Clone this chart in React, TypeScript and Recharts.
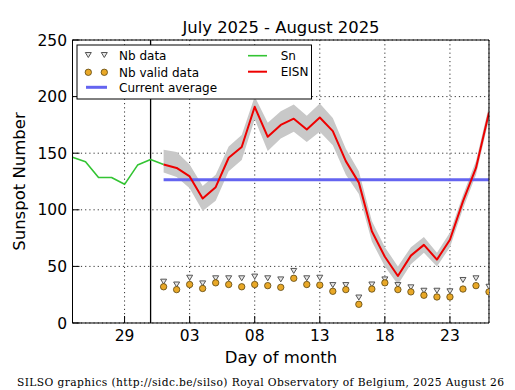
import React from 'react';
import {
  ComposedChart,
  Line,
  Area,
  Scatter,
  XAxis,
  YAxis,
  CartesianGrid,
  ReferenceLine,
} from 'recharts';

// x index: 0 = July 25, 7 = Aug 1, 32 = Aug 26
const snValues = [146.5, 142.5, 128.5, 128.5, 122.5, 139.5, 144.5, 140];
const eisnStart = 7;
const eisnValues = [140, 137, 129.5, 110, 120, 146, 155.5, 191, 164.5, 175, 180.5, 171, 181.5, 169.5, 143, 124, 81, 58.5, 41.5, 59.5, 69, 56, 73.5, 107.5, 137, 186];
const eisnLow = [133, 129, 119, 99, 108, 134, 144, 180, 152, 163, 169, 160, 169, 157, 131, 114, 72, 50, 34, 52, 62, 50, 67, 101, 131, 180];
const eisnHigh = [153, 151, 140, 121, 131, 156, 166, 200, 177, 187, 193, 183, 194, 181, 154, 134, 90, 67, 50, 67, 76, 62, 80, 113, 143, 192];
const nbData = [36.5, 34, 40, 35, 39.5, 39.5, 39.5, 41, 39.5, 38.5, 46, 39.5, 40, 33.5, 33.5, 22.5, 34, 38.5, 33.5, 31.5, 28.5, 28.5, 28, 38, 39.5, 32];
const nbValidData = [32, 29.5, 34, 30.5, 35.5, 34, 32, 34, 33, 31.5, 39.5, 34, 33.5, 28, 29.5, 16.5, 30, 35.5, 29.5, 27.5, 24.5, 23, 23, 30, 33, 27.5];
const currentAverage = 126.5;
const monthBoundary = 6;
const xDomainMax = 32;
const xTicks = [4, 9, 14, 19, 24, 29];
const xTickLabels = ['29', '03', '08', '13', '18', '23'];
const yTicks = [0, 50, 100, 150, 200, 250];
const xMinorTicks = Array.from({ length: xDomainMax + 1 }, (_, i) => i);
const yMinorTicks = Array.from({ length: 26 }, (_, i) => i * 10);

const rows = Array.from({ length: xDomainMax + 1 }, (_, i) => {
  const k = i - eisnStart;
  const inE = k >= 0 && k < eisnValues.length;
  return {
    x: i,
    sn: i < snValues.length ? snValues[i] : undefined,
    eisn: inE ? eisnValues[k] : undefined,
    band: inE ? [eisnLow[k], eisnHigh[k]] : undefined,
    avg: inE ? currentAverage : undefined,
  };
});
const nbRows = nbData.map((v, k) => ({ x: eisnStart + k, y: v }));
const nbValidRows = nbValidData.map((v, k) => ({ x: eisnStart + k, y: v }));

const FONT = 'DejaVu Sans, sans-serif';
const TINY = 0.001;

const Tri = (props: any) => {
  const { cx, cy } = props;
  if (cx == null || cy == null) return null;
  return (
    <polygon
      points={`${cx - 3},${cy - 2.5} ${cx + 3},${cy - 2.5} ${cx},${cy + 2.5}`}
      fill="#e6e6e6"
      stroke="#555"
      strokeWidth={1}
    />
  );
};
const Dot = (props: any) => {
  const { cx, cy } = props;
  if (cx == null || cy == null) return null;
  return <circle cx={cx} cy={cy} r={3.2} fill="#e9a827" stroke="#5a4510" strokeWidth={0.8} />;
};

export default function App() {
  const ax = { stroke: '#000', strokeWidth: 1 };
  return (
    <div style={{ position: 'absolute', left: 0, top: 0, width: 515, height: 390, background: '#fff' }}>
      <ComposedChart
        width={515}
        height={390}
        data={rows}
        margin={{ top: 40, right: 26, bottom: 67, left: 72.5 }}
      >
        <XAxis
          xAxisId="b"
          orientation="bottom"
          type="number"
          dataKey="x"
          domain={[0, xDomainMax]}
          allowDataOverflow
          ticks={xTicks}
          interval={0}
          tickFormatter={(v: number) => xTickLabels[xTicks.indexOf(v)]}
          tick={{ fill: '#000', fontSize: 15.5, fontFamily: FONT }}
          tickSize={-7}
          tickMargin={14}
          tickLine={ax}
          axisLine={ax}
          height={TINY}
        />
        <XAxis xAxisId="bm" orientation="bottom" type="number" dataKey="x" domain={[0, xDomainMax]} allowDataOverflow ticks={xMinorTicks} interval={0} tick={false} tickSize={-4} tickLine={ax} axisLine={false} height={TINY} />
        <XAxis xAxisId="t" orientation="top" type="number" dataKey="x" domain={[0, xDomainMax]} allowDataOverflow ticks={xTicks} interval={0} tick={false} tickSize={-7} tickLine={ax} axisLine={ax} height={TINY} />
        <XAxis xAxisId="tm" orientation="top" type="number" dataKey="x" domain={[0, xDomainMax]} allowDataOverflow ticks={xMinorTicks} interval={0} tick={false} tickSize={-4} tickLine={ax} axisLine={false} height={TINY} />
        <YAxis
          yAxisId="l"
          orientation="left"
          type="number"
          domain={[0, 250]}
          allowDataOverflow
          ticks={yTicks}
          interval={0}
          tick={{ fill: '#000', fontSize: 15.5, fontFamily: FONT }}
          tickSize={-7}
          tickMargin={12.5}
          tickLine={ax}
          axisLine={ax}
          width={TINY}
        />
        <YAxis yAxisId="lm" orientation="left" type="number" domain={[0, 250]} allowDataOverflow ticks={yMinorTicks} interval={0} tick={false} tickSize={-4} tickLine={ax} axisLine={false} width={TINY} />
        <YAxis yAxisId="r" orientation="right" type="number" domain={[0, 250]} allowDataOverflow ticks={yTicks} interval={0} tick={false} tickSize={-7} tickLine={ax} axisLine={ax} width={TINY} />
        <YAxis yAxisId="rm" orientation="right" type="number" domain={[0, 250]} allowDataOverflow ticks={yMinorTicks} interval={0} tick={false} tickSize={-4} tickLine={ax} axisLine={false} width={TINY} />
        <CartesianGrid xAxisId="b" yAxisId="l" stroke="#000" strokeWidth={0.8} strokeDasharray="1.2 3" />
        <ReferenceLine xAxisId="b" yAxisId="l" x={monthBoundary} stroke="#000" strokeWidth={1.3} />
        <Area xAxisId="b" yAxisId="l" dataKey="band" stroke="none" fill="#c8c8c8" fillOpacity={1} isAnimationActive={false} type="linear" />
        <Line xAxisId="b" yAxisId="l" dataKey="avg" stroke="#6464f0" strokeWidth={3} dot={false} isAnimationActive={false} type="linear" />
        <Line xAxisId="b" yAxisId="l" dataKey="sn" stroke="#33c433" strokeWidth={1.6} dot={false} isAnimationActive={false} type="linear" strokeLinejoin="round" />
        <Line xAxisId="b" yAxisId="l" dataKey="eisn" stroke="#ee0000" strokeWidth={2} dot={false} isAnimationActive={false} type="linear" strokeLinejoin="round" />
        <Scatter xAxisId="b" yAxisId="l" data={nbRows} dataKey="y" shape={<Tri />} isAnimationActive={false} />
        <Scatter xAxisId="b" yAxisId="l" data={nbValidRows} dataKey="y" shape={<Dot />} isAnimationActive={false} />
      </ComposedChart>
      <svg
        width={515}
        height={390}
        style={{ position: 'absolute', left: 0, top: 0, pointerEvents: 'none' }}
        fontFamily={FONT}
      >
        <text x={281} y={33.3} textAnchor="middle" fontSize={16.4} fill="#000">July 2025 - August 2025</text>
        <text x={25} y={181.5} textAnchor="middle" fontSize={16.5} fill="#000" transform="rotate(-90 25 181.5)">Sunspot Number</text>
        <text x={281} y={363} textAnchor="middle" fontSize={16.5} fill="#000">Day of month</text>
        <text x={17} y={386} fontSize={10.7} fontFamily="DejaVu Serif, serif" fill="#000" textLength={487} lengthAdjust="spacing">
          SILSO graphics (http://sidc.be/silso) Royal Observatory of Belgium, 2025 August 26
        </text>
        <g>
          <rect x={77} y={45} width={234.5} height={54} fill="#fff" stroke="#000" strokeWidth={1} />
          <Tri cx={88.3} cy={55} />
          <Tri cx={104.3} cy={55} />
          <text x={119} y={59.8} fontSize={12} fill="#000">Nb data</text>
          <Dot cx={88.3} cy={72.3} />
          <Dot cx={104.3} cy={72.3} />
          <text x={119} y={76.5} fontSize={12} fill="#000">Nb valid data</text>
          <line x1={86} x2={107} y1={87.3} y2={87.3} stroke="#6464f0" strokeWidth={3} />
          <text x={119} y={91.7} fontSize={12} fill="#000">Current average</text>
          <line x1={248} x2={267} y1={55.7} y2={55.7} stroke="#33c433" strokeWidth={1.6} />
          <text x={280.7} y={60} fontSize={12} fill="#000">Sn</text>
          <line x1={248} x2={267} y1={71.7} y2={71.7} stroke="#ee0000" strokeWidth={2} />
          <text x={280.7} y={76} fontSize={12} fill="#000">EISN</text>
        </g>
      </svg>
    </div>
  );
}
